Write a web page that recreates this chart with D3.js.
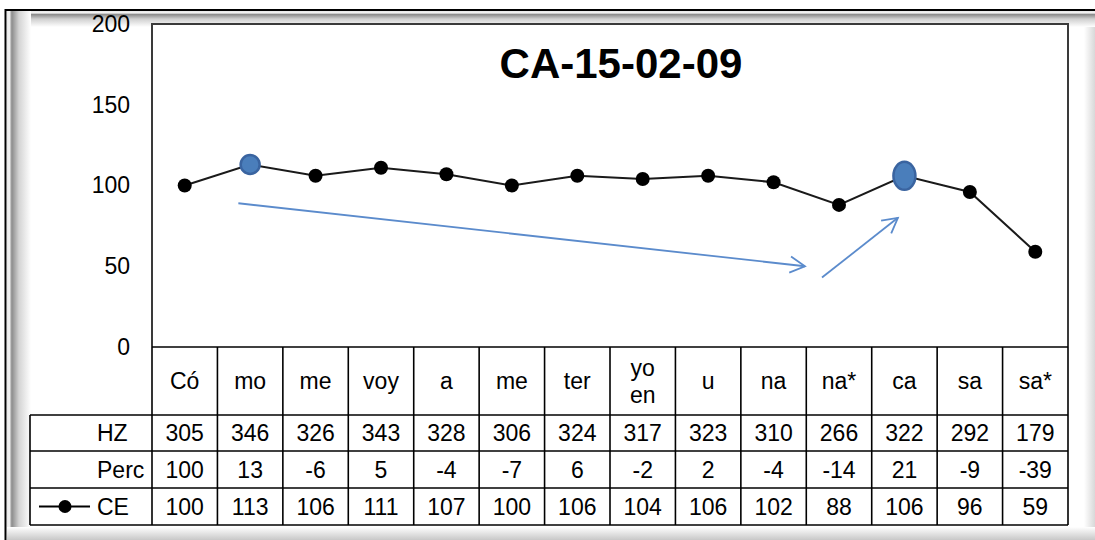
<!DOCTYPE html>
<html><head><meta charset="utf-8">
<script src="https://cdn.jsdelivr.net/npm/d3@7"></script>
<style>html,body{margin:0;padding:0;background:#fff;}svg{display:block;font-family:Arial,"Liberation Sans",sans-serif;}</style>
</head><body>
<script>
const title = "CA-15-02-09";
const categories = ["Có","mo","me","voy","a","me","ter","yo\nen","u","na","na*","ca","sa","sa*"];
const hz   = [305,346,326,343,328,306,324,317,323,310,266,322,292,179];
const perc = [100,13,-6,5,-4,-7,6,-2,2,-4,-14,21,-9,-39];
const ce   = [100,113,106,111,107,100,106,104,106,102,88,106,96,59];
const yTicks = [0,50,100,150,200];
const highlighted = [1, 11]; // "mo", "ca"
// annotation arrows in (category index, value) space
const arrows = [
  {x1:0.82, y1:89, x2:9.48, y2:50},
  {x1:9.74, y1:43, x2:10.9, y2:80}
];
const rows = [{name:"HZ", vals:hz},{name:"Perc", vals:perc},{name:"CE", vals:ce, legend:true}];

const W=1095,H=540;
const L=152,R=1068,T=24,B=347;
const rowEdges=[347,415,451,488,525];
const hdrL=30;

const svg=d3.select("body").append("svg").attr("width",W).attr("height",H);
const defs=svg.append("defs");
function grad(id,x2,y2,stops){
  const g=defs.append("linearGradient").attr("id",id).attr("x1",0).attr("y1",0).attr("x2",x2).attr("y2",y2);
  stops.forEach(s=>g.append("stop").attr("offset",s[0]).attr("stop-color",s[1]));
}
grad("gTop",0,1,[[0,"#e8e8e8"],[0.12,"#f4f4f4"],[0.22,"#8c8c8c"],[0.5,"#d0d0d0"],[1,"#ffffff"]]);
grad("gLeft",1,0,[[0,"#e8e8e8"],[0.1,"#f4f4f4"],[0.2,"#8c8c8c"],[0.5,"#d4d4d4"],[1,"#ffffff"]]);
grad("gBot",0,1,[[0,"#ffffff"],[0.3,"#eeeeee"],[1,"#c8c8c8"]]);
grad("gRight",1,0,[[0,"#ffffff"],[1,"#d8d8d8"]]);

svg.append("rect").attr("width",W).attr("height",H).attr("fill","#fff");
// frame
svg.append("rect").attr("x",7).attr("y",11).attr("width",W-7).attr("height",16).attr("fill","url(#gTop)");
svg.append("rect").attr("x",7).attr("y",11).attr("width",24).attr("height",H-11).attr("fill","url(#gLeft)");
svg.append("rect").attr("x",7).attr("y",527).attr("width",W-7).attr("height",13).attr("fill","url(#gBot)");
svg.append("rect").attr("x",1084).attr("y",27).attr("width",11).attr("height",500).attr("fill","url(#gRight)");
svg.append("line").attr("x1",5).attr("x2",W).attr("y1",10).attr("y2",10).attr("stroke","#000").attr("stroke-width",2);
svg.append("line").attr("x1",5.5).attr("x2",5.5).attr("y1",9).attr("y2",H).attr("stroke","#000").attr("stroke-width",2);

const x=d3.scaleBand().domain(d3.range(categories.length)).range([L,R]).padding(0);
const xi=d3.scaleLinear().domain([-0.5,categories.length-0.5]).range([L,R]);
const y=d3.scaleLinear().domain([0,200]).range([B,T]);

// plot area
svg.append("rect").attr("x",L).attr("y",T).attr("width",R-L).attr("height",B-T).attr("fill","#fff");
svg.append("path").attr("d",`M${L},${B}V${T}H${R}V${B}`).attr("fill","none").attr("stroke","#3a3a3a").attr("stroke-width",2);

// y axis labels
const yAxis=d3.axisLeft(y).tickValues(yTicks).tickSize(0).tickPadding(22);
const ga=svg.append("g").attr("transform",`translate(${L},0)`).call(yAxis);
ga.select(".domain").remove();
ga.selectAll("text").attr("font-size",23).attr("fill","#000").attr("font-family","Arial,'Liberation Sans',sans-serif");

// title
svg.append("text").attr("x",621).attr("y",78).attr("text-anchor","middle").attr("font-size",42).attr("font-weight","bold").attr("fill","#000").text(title);

// arrows
const ac="#5b8bcc";
arrows.forEach(a=>{
  const x1=xi(a.x1),y1=y(a.y1),x2=xi(a.x2),y2=y(a.y2);
  svg.append("line").attr("x1",x1).attr("y1",y1).attr("x2",x2).attr("y2",y2).attr("stroke",ac).attr("stroke-width",1.8);
  const ang=Math.atan2(y2-y1,x2-x1), len=17, sp=0.5;
  const p1=[x2-len*Math.cos(ang-sp),y2-len*Math.sin(ang-sp)];
  const p2=[x2-len*Math.cos(ang+sp),y2-len*Math.sin(ang+sp)];
  svg.append("path").attr("d",`M${p1}L${x2},${y2}L${p2}`).attr("fill","none").attr("stroke",ac).attr("stroke-width",1.8);
});

// line
const line=d3.line().x((d,i)=>x(i)+x.bandwidth()/2).y(d=>y(d));
svg.append("path").datum(ce).attr("d",line).attr("fill","none").attr("stroke","#1a1a1a").attr("stroke-width",2);
ce.forEach((d,i)=>{
  const cx=x(i)+x.bandwidth()/2, cy=y(d);
  if(i===highlighted[0]){
    svg.append("circle").attr("cx",cx).attr("cy",cy).attr("r",9.5).attr("fill","#4a7ebb").attr("stroke","#3a64a0").attr("stroke-width",2.5);
  } else if(i===highlighted[1]){
    svg.append("ellipse").attr("cx",cx).attr("cy",cy).attr("rx",11).attr("ry",14).attr("fill","#4a7ebb").attr("stroke","#3a64a0").attr("stroke-width",2.5);
  } else {
    svg.append("circle").attr("cx",cx).attr("cy",cy).attr("r",7).attr("fill","#000");
  }
});

// data table
const tg=svg.append("g").attr("font-size",23).attr("fill","#000");
function ln(x1,y1,x2,y2){tg.append("line").attr("x1",x1).attr("y1",y1).attr("x2",x2).attr("y2",y2).attr("stroke","#000").attr("stroke-width",1.6);}
ln(L,rowEdges[0],R,rowEdges[0]);
for(let r=1;r<rowEdges.length;r++) ln(hdrL,rowEdges[r],R,rowEdges[r]);
ln(hdrL,rowEdges[1],hdrL,rowEdges[4]);
for(let i=0;i<=categories.length;i++){const xx=i<categories.length?x(i):R; ln(xx,rowEdges[0],xx,rowEdges[4]);}
categories.forEach((c,i)=>{
  const parts=c.split("\n");
  const cx=x(i)+x.bandwidth()/2, cy=(rowEdges[0]+rowEdges[1])/2;
  parts.forEach((p,k)=>{
    tg.append("text").attr("x",cx).attr("y",cy+(k-(parts.length-1)/2)*27).attr("dy","0.36em").attr("text-anchor","middle").text(p);
  });
});
rows.forEach((r,ri)=>{
  const cy=(rowEdges[ri+1]+rowEdges[ri+2])/2;
  tg.append("text").attr("x",97).attr("y",cy).attr("dy","0.36em").text(r.name);
  if(r.legend){
    tg.append("line").attr("x1",39).attr("x2",90).attr("y1",cy).attr("y2",cy).attr("stroke","#000").attr("stroke-width",2);
    tg.append("circle").attr("cx",65).attr("cy",cy).attr("r",6.5).attr("fill","#000");
  }
  r.vals.forEach((v,i)=>{
    tg.append("text").attr("x",x(i)+x.bandwidth()/2).attr("y",cy).attr("dy","0.36em").attr("text-anchor","middle").text(v);
  });
});
</script>
</body></html>
